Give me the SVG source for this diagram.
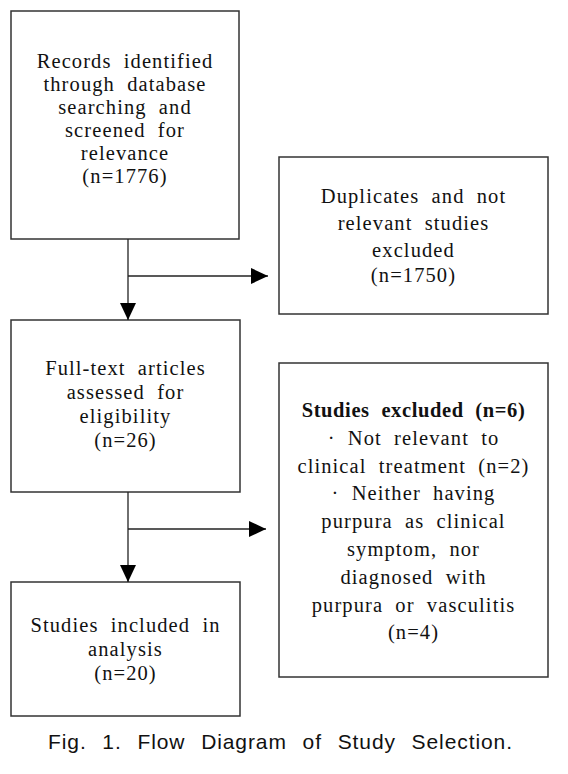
<svg xmlns="http://www.w3.org/2000/svg" width="568" height="774" viewBox="0 0 568 774">
<defs>
<marker id="ah" markerUnits="userSpaceOnUse" markerWidth="17" markerHeight="16" refX="17" refY="8" orient="auto">
<path d="M0,0 L17,8 L0,16 Z" fill="#000"/>
</marker>
<style>
.box{fill:#fff;stroke:#333;stroke-width:1.5}
.t{font-family:"Liberation Serif","Times New Roman",serif;font-size:20.5px;letter-spacing:1.1px;word-spacing:6px;fill:#111;text-anchor:middle}
.b{font-weight:bold;letter-spacing:0.6px}
.c{stroke:#222;stroke-width:1.3;fill:none}
.cap{font-family:"Liberation Sans",Arial,sans-serif;font-size:21px;word-spacing:9px;fill:#111}
</style>
</defs>
<rect width="568" height="774" fill="#fff"/>
<g id="records">
<rect class="box" x="11" y="11" width="228" height="228"/>
<text class="t" x="125" y="68">Records identified</text>
<text class="t" x="125" y="91">through database</text>
<text class="t" x="125" y="114">searching and</text>
<text class="t" x="125" y="137">screened for</text>
<text class="t" x="125" y="160">relevance</text>
<text class="t" x="125" y="183">(n=1776)</text>
</g>
<g id="duplicates">
<rect class="box" x="279" y="157" width="269" height="157"/>
<text class="t" x="413.5" y="203">Duplicates and not</text>
<text class="t" x="413.5" y="230">relevant studies</text>
<text class="t" x="413.5" y="257">excluded</text>
<text class="t" x="413.5" y="282">(n=1750)</text>
</g>
<g id="fulltext">
<rect class="box" x="11" y="320" width="229" height="172"/>
<text class="t" x="125.5" y="375">Full-text articles</text>
<text class="t" x="125.5" y="399">assessed for</text>
<text class="t" x="125.5" y="423">eligibility</text>
<text class="t" x="125.5" y="447">(n=26)</text>
</g>
<g id="excluded">
<rect class="box" x="279" y="363" width="269" height="314"/>
<text class="t b" x="413.5" y="417">Studies excluded (n=6)</text>
<text class="t" x="413.5" y="445">· Not relevant to</text>
<text class="t" x="413.5" y="473">clinical treatment (n=2)</text>
<text class="t" x="413.5" y="500">· Neither having</text>
<text class="t" x="413.5" y="528">purpura as clinical</text>
<text class="t" x="413.5" y="556">symptom, nor</text>
<text class="t" x="413.5" y="584">diagnosed with</text>
<text class="t" x="413.5" y="612">purpura or vasculitis</text>
<text class="t" x="413.5" y="639">(n=4)</text>
</g>
<g id="included">
<rect class="box" x="11" y="582" width="229" height="134"/>
<text class="t" x="125.5" y="632">Studies included in</text>
<text class="t" x="125.5" y="656">analysis</text>
<text class="t" x="125.5" y="680">(n=20)</text>
</g>
<g id="connectors">
<line class="c" x1="128" y1="239" x2="128" y2="320" marker-end="url(#ah)"/>
<line class="c" x1="128" y1="276" x2="268" y2="276" marker-end="url(#ah)"/>
<line class="c" x1="128" y1="492" x2="128" y2="582" marker-end="url(#ah)"/>
<line class="c" x1="128" y1="529" x2="266" y2="529" marker-end="url(#ah)"/>
</g>
<text class="cap" x="48" y="749" textLength="464" lengthAdjust="spacing">Fig. 1. Flow Diagram of Study Selection.</text>
</svg>
